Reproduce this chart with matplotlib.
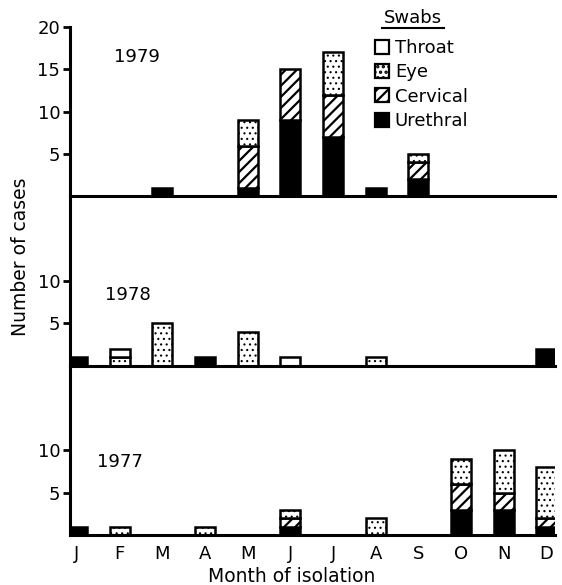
import numpy as np
import matplotlib
matplotlib.use("Agg")
import matplotlib.pyplot as plt
from matplotlib.patches import Patch
from matplotlib.lines import Line2D

# mesi e conteggi per anno (dal basso: urethral, cervical, eye, throat)
months = ['J', 'F', 'M', 'A', 'M', 'J', 'J', 'A', 'S', 'O', 'N', 'D']
years = ['1979', '1978', '1977']

urethral_1979 = [0, 0, 1, 0, 1, 9, 7, 1, 2, 0, 0, 0]
cervical_1979 = [0, 0, 0, 0, 5, 6, 5, 0, 2, 0, 0, 0]
eye_1979 = [0, 0, 0, 0, 3, 0, 5, 0, 1, 0, 0, 0]
throat_1979 = [0, 0, 0, 0, 0, 0, 0, 0, 0, 0, 0, 0]

urethral_1978 = [1, 0, 0, 1, 0, 0, 0, 0, 0, 0, 0, 2]
cervical_1978 = [0, 0, 0, 0, 0, 0, 0, 0, 0, 0, 0, 0]
eye_1978 = [0, 1, 5, 0, 4, 0, 0, 1, 0, 0, 0, 0]
throat_1978 = [0, 1, 0, 0, 0, 1, 0, 0, 0, 0, 0, 0]

urethral_1977 = [1, 0, 0, 0, 0, 1, 0, 0, 0, 3, 3, 1]
cervical_1977 = [0, 0, 0, 0, 0, 1, 0, 0, 0, 3, 2, 1]
eye_1977 = [0, 1, 0, 1, 0, 1, 0, 2, 0, 3, 5, 6]
throat_1977 = [0, 0, 0, 0, 0, 0, 0, 0, 0, 0, 0, 0]

swab_names = ['Throat', 'Eye', 'Cervical', 'Urethral']


def main():
    plt.rcParams['font.family'] = ['DejaVu Sans']
    plt.rcParams['hatch.color'] = 'black'

    data = {
        '1979': [urethral_1979, cervical_1979, eye_1979, throat_1979],
        '1978': [urethral_1978, cervical_1978, eye_1978, throat_1978],
        '1977': [urethral_1977, cervical_1977, eye_1977, throat_1977],
    }
    # stile: urethral, cervical, eye, throat
    styles = [
        dict(facecolor='black', hatch=None, hlw=1.6),
        dict(facecolor='white', hatch='///', hlw=1.6),
        dict(facecolor='white', hatch='...', hlw=0.8),
        dict(facecolor='white', hatch=None, hlw=1.6),
    ]
    year_pos = {'1979': (1.4, 16.4), '1978': (1.2, 8.3), '1977': (1.0, 8.6)}

    fig = plt.figure(figsize=(5.62, 5.85), dpi=100)
    left, right = 70 / 562, 555 / 562
    top, bottom = 1 - 27 / 585, 1 - 535 / 585
    h = (top - bottom) / 3

    x = np.arange(len(months))
    width = 0.47
    for i, yr in enumerate(years):
        ax = fig.add_axes([left, top - (i + 1) * h, right - left, h])
        ax.set_facecolor('none')
        base = np.zeros(len(months))
        for vals, st in zip(data[yr], styles):
            vals = np.array(vals, dtype=float)
            m = vals > 0
            plt.rcParams['hatch.linewidth'] = st['hlw']
            ax.bar(x[m], vals[m], width=width, bottom=base[m],
                   facecolor=st['facecolor'], hatch=st['hatch'],
                   edgecolor='black', linewidth=1.8, zorder=3)
            base += vals
        ax.set_xlim(-0.165, 11.2)
        ax.set_ylim(0, 20)
        for s in ['top', 'right']:
            ax.spines[s].set_visible(False)
        ax.spines['left'].set_linewidth(2.2)
        ax.spines['bottom'].set_linewidth(2.2)
        ax.spines['bottom'].set_zorder(4)
        if yr == '1979':
            ax.set_yticks([5, 10, 15, 20])
        else:
            ax.set_yticks([5, 10])
        ax.tick_params(axis='y', direction='out', length=5, width=2,
                       pad=2, labelsize=13)
        ax.set_xticks(x)
        if yr == '1977':
            ax.set_xticklabels(months)
            ax.tick_params(axis='x', length=0, pad=7, labelsize=13)
        else:
            ax.tick_params(axis='x', length=0, labelbottom=False)
        ax.text(year_pos[yr][0], year_pos[yr][1], yr, fontsize=13,
                ha='center', va='center')

    fig.text(20 / 562, 1 - 257 / 585, 'Number of cases', rotation=90,
             fontsize=13.5, ha='center', va='center')
    fig.text(292 / 562, 1 - 576 / 585, 'Month of isolation',
             fontsize=13.5, ha='center', va='center')

    # legenda
    handles = []
    for st in styles[::-1]:
        plt.rcParams['hatch.linewidth'] = st['hlw']
        handles.append(Patch(facecolor=st['facecolor'], hatch=st['hatch'],
                             edgecolor='black', linewidth=1.6))
    fig.legend(handles, swab_names, loc='upper left',
               bbox_to_anchor=(375 / 562, 1 - 39 / 585),
               frameon=False, fontsize=13, handlelength=0.8,
               handleheight=0.8, handletextpad=0.3, labelspacing=0.35,
               borderpad=0, borderaxespad=0)
    fig.text(413 / 562, 1 - 18 / 585, 'Swabs', fontsize=13,
             ha='center', va='center')
    fig.add_artist(Line2D([382 / 562, 444 / 562], [1 - 28 / 585] * 2,
                          color='black', linewidth=1.5))

    fig.savefig('out.png', dpi=100)


if __name__ == "__main__":
    main()
